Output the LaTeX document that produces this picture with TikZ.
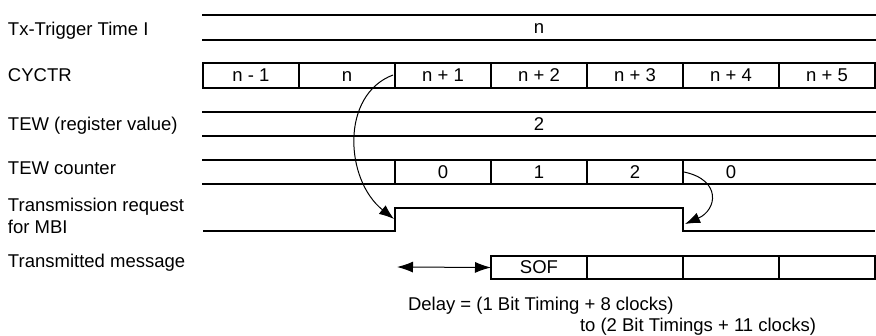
\documentclass[tikz,border=0pt]{standalone}
\usepackage{fontspec}
\setmainfont{Liberation Sans}
\usetikzlibrary{arrows.meta}
\begin{document}
\begin{tikzpicture}[x=1pt,y=-1pt,
  every node/.style={font=\fontsize{18.5}{22}\selectfont, inner sep=0pt, outer sep=0pt},
  sig/.style={line width=2pt, line cap=rect},
  cell/.style={draw, line width=2pt, minimum width=96pt, text height=13pt, text depth=0pt},
  lbl/.style={anchor=base west},
  thinarrow/.style={line width=1pt, -{Latex[length=15pt,width=11pt]}},
  dblarrow/.style={line width=1pt, {Latex[length=16pt,width=11pt]}-{Latex[length=16pt,width=11pt]}}
]
\useasboundingbox (0,0) rectangle (876,336);
% labels
\node[lbl] (l1) at (8,36) {Tx-Trigger Time I};
\node[lbl] (l2) at (8,82) {CYCTR};
\node[lbl] (l3) at (8,131) {TEW (register value)};
\node[lbl] (l4) at (8,175) {TEW counter};
\node[lbl] (l5) at (8,212) {Transmission request};
\node[lbl] (l5b) at (8,234) {for MBI};
\node[lbl] (l6) at (8,268) {Transmitted message};
% Tx-Trigger row
\node[minimum width=672pt, minimum height=25pt, text height=13pt, text depth=0pt] (trig) at (539,27.5) {n};
\draw[sig] (trig.north west) -- (trig.north east);
\draw[sig] (trig.south west) -- (trig.south east);
% CYCTR row
\foreach \i/\t [count=\k] in {251/n - 1, 347/n, 443/n + 1, 539/n + 2, 635/n + 3, 731/n + 4, 827/n + 5}
  \node[cell, minimum height=25pt] (cy\k) at (\i,75.5) {\t};
% TEW register row
\node[minimum width=672pt, minimum height=24pt, text height=13pt, text depth=0pt] (tew) at (539,124) {2};
\draw[sig] (tew.north west) -- (tew.north east);
\draw[sig] (tew.south west) -- (tew.south east);
% TEW counter row
\node[minimum width=672pt, minimum height=24pt] (cnt) at (539,172) {};
\draw[sig] (cnt.north west) -- (cnt.north east);
\draw[sig] (cnt.south west) -- (cnt.south east);
\foreach \i/\t [count=\k] in {443/0, 539/1, 635/2, 731/0}
  \node[minimum width=96pt, minimum height=24pt, text height=13pt, text depth=0pt] (c\k) at (\i,172) {\t};
\foreach \k in {1,2,3,4}
  \draw[sig] (c\k.north west) -- (c\k.south west);
% Transmission request
\coordinate (r0) at (203,231);
\coordinate (r1) at (395,231);
\coordinate (r2) at (395,208);
\coordinate (r3) at (683,208);
\coordinate (r4) at (683,231);
\coordinate (r5) at (875,231);
\draw[sig, line cap=butt] (r0) -- (r1) -- (r2) -- (r3) -- (r4) -- (r5);
% Transmitted message
\foreach \i/\t [count=\k] in {539/SOF, 635/{}, 731/{}, 827/{}}
  \node[cell, minimum height=23pt] (m\k) at (\i,267.5) {\t};
\coordinate (dl) at (397,267);
\draw[dblarrow] (dl) -- (m1.west);
% curved arrows
\coordinate (a1s) at (393,75);
\coordinate (a1e) at (394,219);
\draw[thinarrow] (a1s) .. controls (340,95) and (345,180) .. (a1e);
\coordinate (a2s) at (684,172);
\coordinate (a2e) at (685,224);
\draw[thinarrow] (a2s) .. controls (722,180) and (717,210) .. (a2e);
% delay text
\node[lbl] (d1) at (408,311) {Delay = (1 Bit Timing + 8 clocks)};
\node[lbl] (d2) at (580,332) {to (2 Bit Timings + 11 clocks)};
\end{tikzpicture}
\end{document}
